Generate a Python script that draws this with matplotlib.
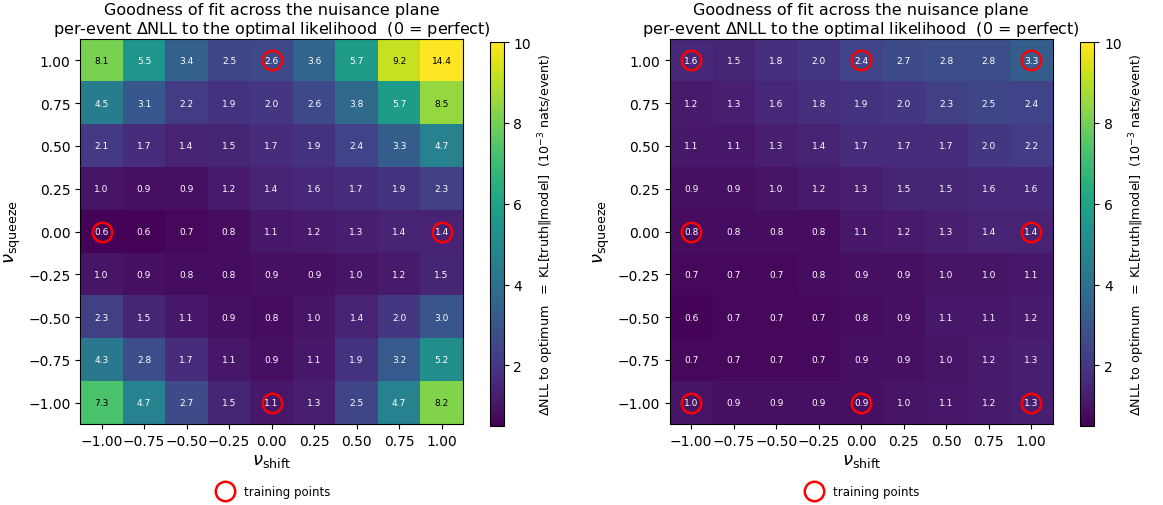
import numpy as np
import matplotlib
matplotlib.use("Agg")
import matplotlib.pyplot as plt

NU = [-1.0, -0.75, -0.5, -0.25, 0.0, 0.25, 0.5, 0.75, 1.0]

# rows from nu_squeeze = +1.00 (top) down to -1.00
LEFT_VALUES = [
    [8.1, 5.5, 3.4, 2.5, 2.6, 3.6, 5.7, 9.2, 14.4],
    [4.5, 3.1, 2.2, 1.9, 2.0, 2.6, 3.8, 5.7, 8.5],
    [2.1, 1.7, 1.4, 1.5, 1.7, 1.9, 2.4, 3.3, 4.7],
    [1.0, 0.9, 0.9, 1.2, 1.4, 1.6, 1.7, 1.9, 2.3],
    [0.6, 0.6, 0.7, 0.8, 1.1, 1.2, 1.3, 1.4, 1.4],
    [1.0, 0.9, 0.8, 0.8, 0.9, 0.9, 1.0, 1.2, 1.5],
    [2.3, 1.5, 1.1, 0.9, 0.8, 1.0, 1.4, 2.0, 3.0],
    [4.3, 2.8, 1.7, 1.1, 0.9, 1.1, 1.9, 3.2, 5.2],
    [7.3, 4.7, 2.7, 1.5, 1.1, 1.3, 2.5, 4.7, 8.2],
]
RIGHT_VALUES = [
    [1.6, 1.5, 1.8, 2.0, 2.4, 2.7, 2.8, 2.8, 3.3],
    [1.2, 1.3, 1.6, 1.8, 1.9, 2.0, 2.3, 2.5, 2.4],
    [1.1, 1.1, 1.3, 1.4, 1.7, 1.7, 1.7, 2.0, 2.2],
    [0.9, 0.9, 1.0, 1.2, 1.3, 1.5, 1.5, 1.6, 1.6],
    [0.8, 0.8, 0.8, 0.8, 1.1, 1.2, 1.3, 1.4, 1.4],
    [0.7, 0.7, 0.7, 0.8, 0.9, 0.9, 1.0, 1.0, 1.1],
    [0.6, 0.7, 0.7, 0.7, 0.8, 0.9, 1.1, 1.1, 1.2],
    [0.7, 0.7, 0.7, 0.7, 0.9, 0.9, 1.0, 1.2, 1.3],
    [1.0, 0.9, 0.9, 0.9, 0.9, 1.0, 1.1, 1.2, 1.3],
]

LEFT_TRAIN = [(0.0, 1.0), (-1.0, 0.0), (1.0, 0.0), (0.0, -1.0)]
RIGHT_TRAIN = [(-1.0, 1.0), (0.0, 1.0), (1.0, 1.0), (-1.0, 0.0), (1.0, 0.0),
               (-1.0, -1.0), (0.0, -1.0), (1.0, -1.0)]

VMIN, VMAX = 0.5, 10.0
TITLE = "Goodness of fit across the nuisance plane\nper-event $\\Delta$NLL to the optimal likelihood  (0 = perfect)"
CBAR_LABEL = "$\\Delta$NLL to optimum  $=$ KL[truth$\\|$model]  ($10^{-3}$ nats/event)"


def fmt(v):
    return f"{v:.2f}".replace("-", "\u2212")


def draw_panel(fig, ax_rect, cax_rect, values, train):
    ax = fig.add_axes(ax_rect)
    cax = fig.add_axes(cax_rect)
    grid = np.array(values)[::-1]  # bottom row first for origin='lower'
    step = NU[1] - NU[0]
    ext = [NU[0] - step / 2, NU[-1] + step / 2, NU[0] - step / 2, NU[-1] + step / 2]
    im = ax.imshow(grid, origin="lower", extent=ext, cmap="viridis",
                   vmin=VMIN, vmax=VMAX, aspect="auto")
    for i, y in enumerate(NU):
        for j, x in enumerate(NU):
            v = grid[i, j]
            ax.text(x, y, f"{v:.1f}", ha="center", va="center", fontsize=6.5,
                    color="black" if v > 6 else "white")
    tx = [p[0] for p in train]
    ty = [p[1] for p in train]
    ax.plot(tx, ty, "o", ms=14, mfc="none", mec="red", mew=1.8, ls="none",
            label="training points")
    ax.set_xticks(NU)
    ax.set_yticks(NU)
    ax.set_xticklabels([fmt(v) for v in NU])
    ax.set_yticklabels([fmt(v) for v in NU])
    ax.set_xlabel(r"$\nu_{\rm shift}$", fontsize=13, labelpad=2)
    ax.set_ylabel(r"$\nu_{\rm squeeze}$", fontsize=13)
    ax.set_title(TITLE, fontsize=11.5, pad=4)
    ax.legend(loc="center", bbox_to_anchor=(0.5, -0.175), frameon=False,
              fontsize=8.5, handletextpad=0.6)
    cb = fig.colorbar(im, cax=cax)
    cb.set_label(CBAR_LABEL, fontsize=9.2)
    return ax


fig = plt.figure(figsize=(11.63, 5.06), dpi=100)
draw_panel(fig, [0.069, 0.160, 0.329, 0.761], [0.421, 0.156, 0.012, 0.759],
           LEFT_VALUES, LEFT_TRAIN)
draw_panel(fig, [0.576, 0.160, 0.329, 0.761], [0.929, 0.156, 0.012, 0.759],
           RIGHT_VALUES, RIGHT_TRAIN)
fig.savefig("out.png", dpi=100)
